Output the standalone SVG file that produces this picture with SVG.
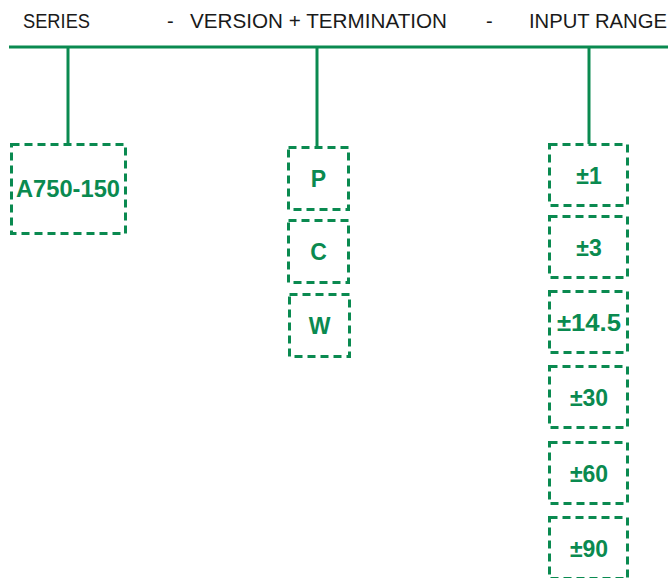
<svg xmlns="http://www.w3.org/2000/svg" width="668" height="578" viewBox="0 0 668 578">
<style>
.hdr{font-family:"Liberation Sans",Arial,sans-serif;font-size:20px;fill:#1a1a1a}
.box{fill:none;stroke:#0a8a50;stroke-width:3;stroke-dasharray:8 5}
.lbl{font-family:"Liberation Sans",Arial,sans-serif;font-size:23px;font-weight:bold;fill:#0a8a50;text-anchor:middle}
.ln{stroke:#0a8a50;stroke-width:3;fill:none}
</style>
<rect width="668" height="578" fill="#fff"/>
<g id="header">
<text class="hdr" x="23" y="28" textLength="67" lengthAdjust="spacingAndGlyphs">SERIES</text>
<text class="hdr" x="167" y="28">-</text>
<text class="hdr" x="190" y="28" textLength="257" lengthAdjust="spacingAndGlyphs">VERSION + TERMINATION</text>
<text class="hdr" x="486" y="28">-</text>
<text class="hdr" x="529" y="28" textLength="138" lengthAdjust="spacingAndGlyphs">INPUT RANGE</text>
</g>
<g id="connectors">
<line class="ln" x1="9" y1="47" x2="668" y2="47"/>
<line class="ln" x1="68" y1="47" x2="68" y2="144"/>
<line class="ln" x1="317" y1="47" x2="317" y2="147"/>
<line class="ln" x1="589" y1="47" x2="589" y2="144"/>
</g>
<g id="series"><rect class="box" x="11.5" y="144.5" width="114" height="89"/><text class="lbl" x="68" y="197" textLength="104" lengthAdjust="spacingAndGlyphs">A750-150</text></g>
<g id="ver-P"><rect class="box" x="288.5" y="147.5" width="60" height="62"/><text class="lbl" x="318.5" y="187">P</text></g>
<g id="ver-C"><rect class="box" x="288.5" y="220.5" width="60" height="62"/><text class="lbl" x="318.5" y="260">C</text></g>
<g id="ver-W"><rect class="box" x="289.5" y="294.5" width="60" height="62"/><text class="lbl" x="319.5" y="334">W</text></g>
<g id="r1"><rect class="box" x="549.5" y="144.5" width="78" height="61"/><text class="lbl" x="589" y="184">±1</text></g>
<g id="r3"><rect class="box" x="549.5" y="216.5" width="78" height="61"/><text class="lbl" x="589" y="256">±3</text></g>
<g id="r14"><rect class="box" x="549.5" y="291.5" width="78" height="61"/><text class="lbl" x="589" y="331" textLength="64" lengthAdjust="spacingAndGlyphs">±14.5</text></g>
<g id="r30"><rect class="box" x="549.5" y="366.5" width="78" height="61"/><text class="lbl" x="589" y="406">±30</text></g>
<g id="r60"><rect class="box" x="549.5" y="442.5" width="78" height="61"/><text class="lbl" x="589" y="482">±60</text></g>
<g id="r90"><rect class="box" x="549.5" y="517.5" width="78" height="61"/><text class="lbl" x="589" y="557">±90</text></g>
</svg>
